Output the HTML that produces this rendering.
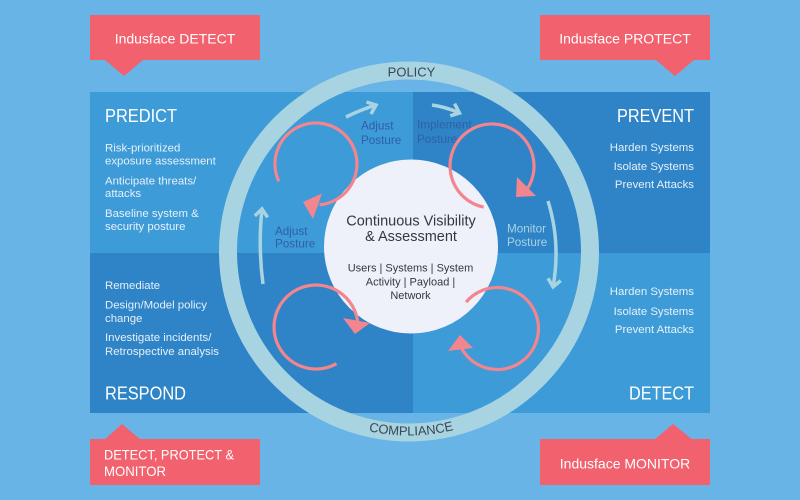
<!DOCTYPE html>
<html><head><meta charset="utf-8"><style>
html,body{margin:0;padding:0;background:#69b4e6;}
svg{display:block;font-family:"Liberation Sans",sans-serif;}
</style></head><body>
<svg width="800" height="500" viewBox="0 0 800 500" xmlns="http://www.w3.org/2000/svg">
<rect x="0" y="0" width="800" height="500" fill="#69b4e6"/>
<!-- quadrants -->
<rect x="90" y="92" width="323" height="161" fill="#3d9bd8"/>
<rect x="413" y="92" width="297" height="161" fill="#2e84c6"/>
<rect x="90" y="253" width="323" height="160" fill="#2e84c6"/>
<rect x="413" y="253" width="297" height="160" fill="#3d9bd8"/>

<!-- callouts -->
<g fill="#f2616e">
<rect x="90" y="15" width="170" height="45"/>
<polygon points="105,60 143,60 124,76"/>
<rect x="540" y="15" width="170" height="45"/>
<polygon points="656,60 694,60 675,76"/>
<rect x="90" y="439" width="170" height="46"/>
<polygon points="104,440 141,440 122,424"/>
<rect x="540" y="439" width="170" height="46"/>
<polygon points="654,440 693,440 673,424"/>
</g>
<g fill="#ffffff" font-size="14">
<text x="175" y="43.5" text-anchor="middle">Indusface DETECT</text>
<text x="625" y="43.5" text-anchor="middle">Indusface PROTECT</text>
<text x="625" y="468.5" text-anchor="middle">Indusface MONITOR</text>
<text x="104" y="459.5" textLength="130" lengthAdjust="spacingAndGlyphs">DETECT, PROTECT &amp;</text>
<text x="104" y="476" textLength="62" lengthAdjust="spacingAndGlyphs">MONITOR</text>
</g>

<!-- quadrant titles -->
<g fill="#ffffff" font-size="18">
<text x="105" y="122" textLength="72" lengthAdjust="spacingAndGlyphs">PREDICT</text>
<text x="617" y="122" textLength="77" lengthAdjust="spacingAndGlyphs">PREVENT</text>
<text x="105" y="399.5" textLength="81" lengthAdjust="spacingAndGlyphs">RESPOND</text>
<text x="629" y="399.5" textLength="65" lengthAdjust="spacingAndGlyphs">DETECT</text>
</g>
<!-- quadrant lists -->
<g fill="#e6f0fa" font-size="11.4">
<text x="105" y="151.5">Risk-prioritized</text>
<text x="105" y="164.5">exposure assessment</text>
<text x="105" y="184.5">Anticipate threats/</text>
<text x="105" y="197">attacks</text>
<text x="105" y="217">Baseline system &amp;</text>
<text x="105" y="230">security posture</text>

<text x="105" y="289">Remediate</text>
<text x="105" y="308.5">Design/Model policy</text>
<text x="105" y="322">change</text>
<text x="105" y="341">Investigate incidents/</text>
<text x="105" y="355">Retrospective analysis</text>
</g>
<g fill="#e6f0fa" font-size="11.4" text-anchor="end">
<text x="694" y="151">Harden Systems</text>
<text x="694" y="170">Isolate  Systems</text>
<text x="694" y="188">Prevent Attacks</text>
<text x="694" y="295">Harden Systems</text>
<text x="694" y="315">Isolate  Systems</text>
<text x="694" y="333">Prevent Attacks</text>
</g>

<!-- ring -->
<circle cx="409" cy="251.5" r="181" fill="none" stroke="#a8d4e2" stroke-width="18"/>
<text x="411.5" y="76.5" text-anchor="middle" font-size="13" fill="#3a4650">POLICY</text>
<defs>
<path id="bot" d="M 225 251.5 A 184 184 0 0 0 593 251.5"/>
</defs>
<text font-size="13" fill="#3a4650"><textPath href="#bot" startOffset="50.4%" text-anchor="middle">COMPLIANCE</textPath></text>

<!-- posture labels -->
<g font-size="11.7" fill="#2f5fa8">
<text x="361" y="129.5">Adjust</text>
<text x="361" y="144">Posture</text>
<text x="417" y="128.5">Implement</text>
<text x="417" y="143">Posture</text>
<text x="275" y="235">Adjust</text>
<text x="275" y="247.5">Posture</text>
</g>
<g font-size="11.7" fill="#a9d2e4">
<text x="507" y="232.5">Monitor</text>
<text x="507" y="246">Posture</text>
</g>

<!-- light arrows -->
<g fill="none" stroke="#a8d4e2" stroke-width="3.5" stroke-linejoin="miter" stroke-linecap="butt">
<path d="M 346 117 Q 360 110 376 105"/>
<polyline points="366.5,102 376,105 371,114"/>
<path d="M 432 105 Q 446 107 459.5 113"/>
<polyline points="454.6,103.7 459.5,113 450.2,115.8"/>
<path d="M 548 201 Q 561 243 553 287"/>
<polyline points="560.7,280.6 553,287 548,278.3"/>
<path d="M 263 284 Q 258 246 262 209"/>
<polyline points="254.8,215.9 262,209 267.6,217.3"/>
</g>

<!-- center circle -->
<circle cx="411" cy="246.5" r="87" fill="#eef0fa"/>
<g fill="#33393f" text-anchor="middle">
<text x="411" y="225.5" font-size="14.5">Continuous Visibility</text>
<text x="411" y="241" font-size="14.5">&amp; Assessment</text>
<text x="410.5" y="271.5" font-size="11">Users | Systems | System</text>
<text x="410.5" y="285.5" font-size="11">Activity | Payload |</text>
<text x="410.5" y="299" font-size="11">Network</text>
</g>

<!-- pink cycle arrows -->
<g fill="none" stroke="#f3858e" stroke-width="3.2">
<path d="M 278.8 181.3 A 41 41 0 1 1 319.6 204.8"/>
<path d="M 483.6 207.1 A 42 42 0 1 1 527.6 188.3"/>
<path d="M 336.5 363.7 A 42 42 0 1 1 357.6 321.2"/>
<path d="M 466.1 302.1 A 41 41 0 1 1 460.3 345.8"/>
</g>
<g fill="#f3858e">
<polygon points="303,202 322,193.5 313,219"/>
<polygon points="516,197 517,177 536,196"/>
<polygon points="343,318 370,323 355,334"/>
<polygon points="448,351 473,348 460,335"/>
</g>
</svg>
</body></html>
